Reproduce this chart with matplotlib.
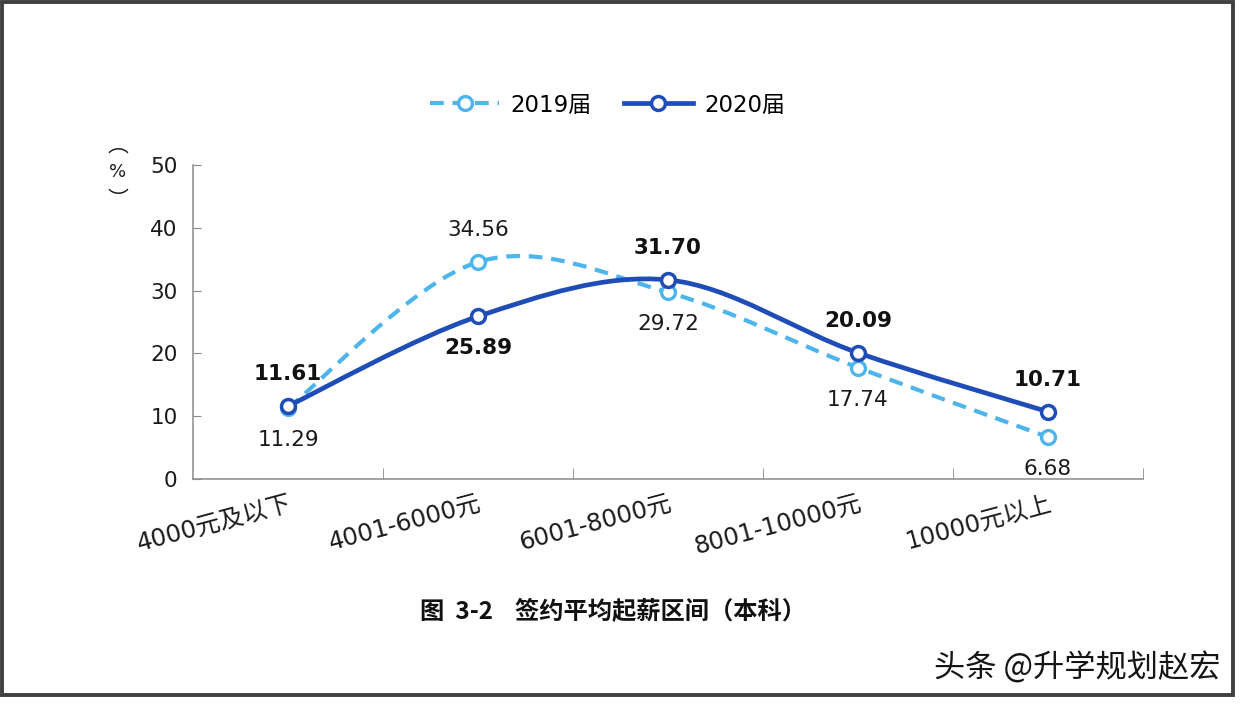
import numpy as np
import matplotlib.pyplot as plt
from matplotlib.path import Path
from matplotlib.patches import PathPatch, Rectangle
from matplotlib.lines import Line2D

plt.rcParams['font.family'] = ['DejaVu Sans', 'Noto Sans CJK SC']

# data
categories = ['4000元及以下', '4001-6000元', '6001-8000元', '8001-10000元', '10000元以上']
y2019 = [11.29, 34.56, 29.72, 17.74, 6.68]
y2020 = [11.61, 25.89, 31.70, 20.09, 10.71]
# where the data label sits: 1 above the point, -1 below
side_2019 = [-1, 1, -1, -1, -1]
side_2020 = [1, -1, 1, 1, 1]

c2019 = '#4db5ec'
c2020 = '#1f4db8'
axis_color = '#8a8a8a'


def smooth_path(xs, ys):
    # excel-like smoothed line, one bezier segment between each pair of points
    pts = np.column_stack([xs, ys]).astype(float)
    n = len(pts)
    verts = [pts[0]]
    codes = [Path.MOVETO]
    for i in range(n - 1):
        p0 = pts[max(i - 1, 0)]
        p1 = pts[i]
        p2 = pts[i + 1]
        p3 = pts[min(i + 2, n - 1)]
        verts += [p1 + (p2 - p0) / 6, p2 - (p3 - p1) / 6, p2]
        codes += [Path.CURVE4] * 3
    return Path(verts, codes)


fig = plt.figure(figsize=(12.4, 7.06), dpi=100)
fig.patch.set_facecolor('white')
ax = fig.add_axes([193 / 1240, 1 - 479 / 706, 950 / 1240, 314 / 706])

x = np.arange(len(categories))

# 2019 - dashed light blue
ax.add_patch(PathPatch(smooth_path(x, y2019), fill=False, edgecolor=c2019,
                       lw=3, linestyle=(0, (3.3, 2.1)), capstyle='butt', zorder=3))
ax.plot(x, y2019, 'o', ls='none', ms=10, mfc='white', mec=c2019, mew=2.4, zorder=4)

# 2020 - solid dark blue
ax.add_patch(PathPatch(smooth_path(x, y2020), fill=False, edgecolor=c2020,
                       lw=3.4, zorder=5))
ax.plot(x, y2020, 'o', ls='none', ms=10, mfc='white', mec=c2020, mew=2.5, zorder=6)

# data labels
for xi, v, s in zip(x, y2019, side_2019):
    ax.annotate(f'{v:.2f}', (xi, v), xytext=(0, 23 * s), textcoords='offset points',
                ha='center', va='center', fontsize=15.5, color='#1a1a1a', zorder=7)
for xi, v, s in zip(x, y2020, side_2020):
    ax.annotate(f'{v:.2f}', (xi, v), xytext=(0, 23 * s), textcoords='offset points',
                ha='center', va='center', fontsize=15.5, fontweight='bold',
                color='#111111', zorder=7)

# axes
ax.set_xlim(-0.5, 4.5)
ax.set_ylim(0, 50)
ax.set_facecolor('none')
for sp in ['top', 'right']:
    ax.spines[sp].set_visible(False)
for sp in ['left', 'bottom']:
    ax.spines[sp].set_color(axis_color)
    ax.spines[sp].set_linewidth(1.1)

ax.set_yticks([0, 10, 20, 30, 40, 50])
ax.tick_params(axis='y', direction='in', length=6, color=axis_color, pad=11,
               labelsize=15.5, labelcolor='#1a1a1a')

ax.set_xticks(x)
ax.set_xticklabels(categories, rotation=15, ha='right', va='top',
                   rotation_mode='anchor', fontsize=17.5, color='#1a1a1a')
ax.tick_params(axis='x', which='major', length=0, pad=9)
ax.set_xticks(x + 0.5, minor=True)
ax.tick_params(axis='x', which='minor', direction='in', length=8, color=axis_color)

# y axis unit, written vertically (vertical-form brackets)
fig.text(118 / 1240, 1 - 146 / 706, '︵', ha='center', va='center',
         fontsize=15, color='#1a1a1a', family='Noto Sans CJK SC')
fig.text(118 / 1240, 1 - 172 / 706, '%', ha='center', va='center',
         fontsize=13, color='#1a1a1a')
fig.text(118 / 1240, 1 - 200 / 706, '︶', ha='center', va='center',
         fontsize=15, color='#1a1a1a', family='Noto Sans CJK SC')

# legend
handles = [
    Line2D([], [], color=c2019, lw=3, ls=(0, (3.3, 2.1)), marker='o', ms=10,
           mfc='white', mec=c2019, mew=2.4),
    Line2D([], [], color=c2020, lw=3.4, marker='o', ms=10,
           mfc='white', mec=c2020, mew=2.5),
]
fig.legend(handles, ['2019届', '2020届'], loc='center', bbox_to_anchor=(0.49, 1 - 105 / 706),
           ncol=2, frameon=False, fontsize=16.5, handlelength=3, columnspacing=1.4,
           handletextpad=0.5)

# caption
fig.text(613 / 1240, 1 - 611 / 706, '图  3-2    签约平均起薪区间（本科）', ha='center',
         va='center', fontsize=17.5, fontweight='bold', color='#111111',
         family=['Noto Sans CJK SC', 'DejaVu Sans'])

# watermark
fig.text(1220 / 1240, 1 - 668 / 706, '头条 @升学规划赵宏', ha='right', va='center',
         fontsize=22.5, color='#151515', family=['Noto Sans CJK SC', 'DejaVu Sans'])

# dark frame round the picture
fig.patches.append(Rectangle((2 / 1240, 1 - 695 / 706), 1231 / 1240, 693 / 706,
                             transform=fig.transFigure, fill=False,
                             edgecolor='#404040', lw=2.8))

fig.savefig('out.png', dpi=100)
